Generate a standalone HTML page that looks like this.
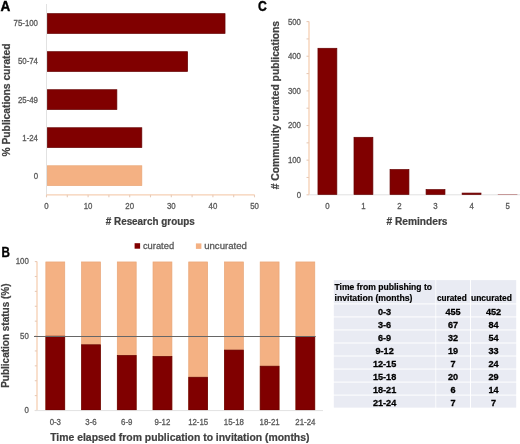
<!DOCTYPE html>
<html><head><meta charset="utf-8"><style>
html,body{margin:0;padding:0;background:#fff;width:520px;height:444px;overflow:hidden}
svg{display:block;will-change:transform}
text{font-family:"Liberation Sans",sans-serif}
</style></head><body>
<svg width="520" height="444" viewBox="0 0 520 444">
<text x="0.50" y="10.60" font-size="14.5" text-anchor="start" fill="#000" stroke="#000" stroke-width="0.4" font-weight="bold" textLength="9.80" lengthAdjust="spacingAndGlyphs">A</text>
<line x1="46.50" y1="4.00" x2="46.50" y2="197.00" stroke="#E2E2E2" stroke-width="1"/>
<rect x="47.35" y="13.65" width="177.68" height="19.80" fill="#800000" stroke="#650000" stroke-width="0.7"/>
<text x="38.00" y="26.45" font-size="8.6" text-anchor="end" fill="#595959" stroke="#595959" stroke-width="0.3" textLength="24.43" lengthAdjust="spacingAndGlyphs">75-100</text>
<rect x="47.35" y="51.68" width="140.24" height="19.80" fill="#800000" stroke="#650000" stroke-width="0.7"/>
<text x="38.00" y="64.48" font-size="8.6" text-anchor="end" fill="#595959" stroke="#595959" stroke-width="0.3" textLength="20.07" lengthAdjust="spacingAndGlyphs">50-74</text>
<rect x="47.35" y="89.71" width="69.52" height="19.80" fill="#800000" stroke="#650000" stroke-width="0.7"/>
<text x="38.00" y="102.51" font-size="8.6" text-anchor="end" fill="#595959" stroke="#595959" stroke-width="0.3" textLength="20.07" lengthAdjust="spacingAndGlyphs">25-49</text>
<rect x="47.35" y="127.74" width="94.48" height="19.80" fill="#800000" stroke="#650000" stroke-width="0.7"/>
<text x="38.00" y="140.54" font-size="8.6" text-anchor="end" fill="#595959" stroke="#595959" stroke-width="0.3" textLength="15.71" lengthAdjust="spacingAndGlyphs">1-24</text>
<rect x="47.35" y="165.77" width="94.48" height="19.80" fill="#F4B183" stroke="#E9A677" stroke-width="0.7"/>
<text x="38.00" y="178.57" font-size="8.6" text-anchor="end" fill="#595959" stroke="#595959" stroke-width="0.3" textLength="4.36" lengthAdjust="spacingAndGlyphs">0</text>
<line x1="46.50" y1="194.80" x2="254.50" y2="194.80" stroke="#F6CFB3" stroke-width="1.3"/>
<line x1="46.50" y1="194.80" x2="46.50" y2="197.30" stroke="#E8CBB8" stroke-width="1.1"/>
<line x1="67.30" y1="194.80" x2="67.30" y2="197.30" stroke="#E8CBB8" stroke-width="1.1"/>
<line x1="88.10" y1="194.80" x2="88.10" y2="197.30" stroke="#E8CBB8" stroke-width="1.1"/>
<line x1="108.90" y1="194.80" x2="108.90" y2="197.30" stroke="#E8CBB8" stroke-width="1.1"/>
<line x1="129.70" y1="194.80" x2="129.70" y2="197.30" stroke="#E8CBB8" stroke-width="1.1"/>
<line x1="150.50" y1="194.80" x2="150.50" y2="197.30" stroke="#E8CBB8" stroke-width="1.1"/>
<line x1="171.30" y1="194.80" x2="171.30" y2="197.30" stroke="#E8CBB8" stroke-width="1.1"/>
<line x1="192.10" y1="194.80" x2="192.10" y2="197.30" stroke="#E8CBB8" stroke-width="1.1"/>
<line x1="212.90" y1="194.80" x2="212.90" y2="197.30" stroke="#E8CBB8" stroke-width="1.1"/>
<line x1="233.70" y1="194.80" x2="233.70" y2="197.30" stroke="#E8CBB8" stroke-width="1.1"/>
<line x1="254.50" y1="194.80" x2="254.50" y2="197.30" stroke="#E8CBB8" stroke-width="1.1"/>
<text x="46.50" y="209.30" font-size="8.6" text-anchor="middle" fill="#595959" stroke="#595959" stroke-width="0.3" textLength="4.36" lengthAdjust="spacingAndGlyphs">0</text>
<text x="88.10" y="209.30" font-size="8.6" text-anchor="middle" fill="#595959" stroke="#595959" stroke-width="0.3" textLength="8.72" lengthAdjust="spacingAndGlyphs">10</text>
<text x="129.70" y="209.30" font-size="8.6" text-anchor="middle" fill="#595959" stroke="#595959" stroke-width="0.3" textLength="8.72" lengthAdjust="spacingAndGlyphs">20</text>
<text x="171.30" y="209.30" font-size="8.6" text-anchor="middle" fill="#595959" stroke="#595959" stroke-width="0.3" textLength="8.72" lengthAdjust="spacingAndGlyphs">30</text>
<text x="212.90" y="209.30" font-size="8.6" text-anchor="middle" fill="#595959" stroke="#595959" stroke-width="0.3" textLength="8.72" lengthAdjust="spacingAndGlyphs">40</text>
<text x="254.50" y="209.30" font-size="8.6" text-anchor="middle" fill="#595959" stroke="#595959" stroke-width="0.3" textLength="8.72" lengthAdjust="spacingAndGlyphs">50</text>
<text x="150.25" y="225.00" font-size="10" text-anchor="middle" fill="#404040" stroke="#404040" stroke-width="0.2" font-weight="bold" textLength="89.00" lengthAdjust="spacingAndGlyphs"># Research groups</text>
<text x="9.50" y="156.50" font-size="10" text-anchor="start" fill="#404040" stroke="#404040" stroke-width="0.2" font-weight="bold" textLength="113.00" lengthAdjust="spacingAndGlyphs" transform="rotate(-90 9.50 156.50)">% Publications curated</text>
<text x="258.10" y="10.60" font-size="14.5" text-anchor="start" fill="#000" stroke="#000" stroke-width="0.4" font-weight="bold" textLength="8.80" lengthAdjust="spacingAndGlyphs">C</text>
<line x1="309.00" y1="21.60" x2="309.00" y2="194.80" stroke="#F6CFB3" stroke-width="1.3"/>
<line x1="306.50" y1="194.80" x2="309.00" y2="194.80" stroke="#E8CBB8" stroke-width="1.1"/>
<line x1="306.50" y1="177.48" x2="309.00" y2="177.48" stroke="#E8CBB8" stroke-width="1.1"/>
<line x1="306.50" y1="160.16" x2="309.00" y2="160.16" stroke="#E8CBB8" stroke-width="1.1"/>
<line x1="306.50" y1="142.84" x2="309.00" y2="142.84" stroke="#E8CBB8" stroke-width="1.1"/>
<line x1="306.50" y1="125.52" x2="309.00" y2="125.52" stroke="#E8CBB8" stroke-width="1.1"/>
<line x1="306.50" y1="108.20" x2="309.00" y2="108.20" stroke="#E8CBB8" stroke-width="1.1"/>
<line x1="306.50" y1="90.88" x2="309.00" y2="90.88" stroke="#E8CBB8" stroke-width="1.1"/>
<line x1="306.50" y1="73.56" x2="309.00" y2="73.56" stroke="#E8CBB8" stroke-width="1.1"/>
<line x1="306.50" y1="56.24" x2="309.00" y2="56.24" stroke="#E8CBB8" stroke-width="1.1"/>
<line x1="306.50" y1="38.92" x2="309.00" y2="38.92" stroke="#E8CBB8" stroke-width="1.1"/>
<line x1="306.50" y1="21.60" x2="309.00" y2="21.60" stroke="#E8CBB8" stroke-width="1.1"/>
<text x="301.00" y="197.70" font-size="8.6" text-anchor="end" fill="#595959" stroke="#595959" stroke-width="0.3" textLength="4.36" lengthAdjust="spacingAndGlyphs">0</text>
<text x="301.00" y="163.06" font-size="8.6" text-anchor="end" fill="#595959" stroke="#595959" stroke-width="0.3" textLength="13.08" lengthAdjust="spacingAndGlyphs">100</text>
<text x="301.00" y="128.42" font-size="8.6" text-anchor="end" fill="#595959" stroke="#595959" stroke-width="0.3" textLength="13.08" lengthAdjust="spacingAndGlyphs">200</text>
<text x="301.00" y="93.78" font-size="8.6" text-anchor="end" fill="#595959" stroke="#595959" stroke-width="0.3" textLength="13.08" lengthAdjust="spacingAndGlyphs">300</text>
<text x="301.00" y="59.14" font-size="8.6" text-anchor="end" fill="#595959" stroke="#595959" stroke-width="0.3" textLength="13.08" lengthAdjust="spacingAndGlyphs">400</text>
<text x="301.00" y="24.50" font-size="8.6" text-anchor="end" fill="#595959" stroke="#595959" stroke-width="0.3" textLength="13.08" lengthAdjust="spacingAndGlyphs">500</text>
<line x1="309.00" y1="194.80" x2="520.00" y2="194.80" stroke="#E2E2E2" stroke-width="1"/>
<rect x="317.95" y="48.28" width="18.90" height="146.17" fill="#800000" stroke="#650000" stroke-width="0.7"/>
<text x="327.40" y="209.20" font-size="8.6" text-anchor="middle" fill="#595959" stroke="#595959" stroke-width="0.3" textLength="4.36" lengthAdjust="spacingAndGlyphs">0</text>
<rect x="353.99" y="137.30" width="18.90" height="57.15" fill="#800000" stroke="#650000" stroke-width="0.7"/>
<text x="363.44" y="209.20" font-size="8.6" text-anchor="middle" fill="#595959" stroke="#595959" stroke-width="0.3" textLength="4.36" lengthAdjust="spacingAndGlyphs">1</text>
<rect x="390.03" y="169.52" width="18.90" height="24.93" fill="#800000" stroke="#650000" stroke-width="0.7"/>
<text x="399.48" y="209.20" font-size="8.6" text-anchor="middle" fill="#595959" stroke="#595959" stroke-width="0.3" textLength="4.36" lengthAdjust="spacingAndGlyphs">2</text>
<rect x="426.07" y="189.61" width="18.90" height="4.84" fill="#800000" stroke="#650000" stroke-width="0.7"/>
<text x="435.52" y="209.20" font-size="8.6" text-anchor="middle" fill="#595959" stroke="#595959" stroke-width="0.3" textLength="4.36" lengthAdjust="spacingAndGlyphs">3</text>
<rect x="462.11" y="193.07" width="18.90" height="1.38" fill="#800000" stroke="#650000" stroke-width="0.7"/>
<text x="471.56" y="209.20" font-size="8.6" text-anchor="middle" fill="#595959" stroke="#595959" stroke-width="0.3" textLength="4.36" lengthAdjust="spacingAndGlyphs">4</text>
<rect x="497.80" y="194.45" width="19.60" height="0.35" fill="#800000"/>
<text x="507.60" y="209.20" font-size="8.6" text-anchor="middle" fill="#595959" stroke="#595959" stroke-width="0.3" textLength="4.36" lengthAdjust="spacingAndGlyphs">5</text>
<text x="417.00" y="225.00" font-size="10" text-anchor="middle" fill="#404040" stroke="#404040" stroke-width="0.2" font-weight="bold" textLength="61.00" lengthAdjust="spacingAndGlyphs"># Reminders</text>
<text x="278.70" y="189.20" font-size="10" text-anchor="start" fill="#404040" stroke="#404040" stroke-width="0.2" font-weight="bold" textLength="168.30" lengthAdjust="spacingAndGlyphs" transform="rotate(-90 278.70 189.20)"># Community curated publications</text>
<text x="1.50" y="256.90" font-size="14.5" text-anchor="start" fill="#000" stroke="#000" stroke-width="0.4" font-weight="bold" textLength="8.40" lengthAdjust="spacingAndGlyphs">B</text>
<rect x="134.60" y="243.20" width="5.50" height="5.50" fill="#800000"/>
<text x="142.90" y="248.80" font-size="9.4" text-anchor="start" fill="#595959" stroke="#595959" stroke-width="0.3" textLength="31.20" lengthAdjust="spacingAndGlyphs">curated</text>
<rect x="195.90" y="243.40" width="5.50" height="5.50" fill="#F4B183"/>
<text x="204.20" y="248.80" font-size="9.4" text-anchor="start" fill="#595959" stroke="#595959" stroke-width="0.3" textLength="42.70" lengthAdjust="spacingAndGlyphs">uncurated</text>
<line x1="37.00" y1="261.40" x2="37.00" y2="410.40" stroke="#F6CFB3" stroke-width="1.3"/>
<line x1="34.80" y1="410.50" x2="37.00" y2="410.50" stroke="#E8CBB8" stroke-width="1.1"/>
<line x1="34.80" y1="395.61" x2="37.00" y2="395.61" stroke="#E8CBB8" stroke-width="1.1"/>
<line x1="34.80" y1="380.72" x2="37.00" y2="380.72" stroke="#E8CBB8" stroke-width="1.1"/>
<line x1="34.80" y1="365.83" x2="37.00" y2="365.83" stroke="#E8CBB8" stroke-width="1.1"/>
<line x1="34.80" y1="350.94" x2="37.00" y2="350.94" stroke="#E8CBB8" stroke-width="1.1"/>
<line x1="34.80" y1="336.05" x2="37.00" y2="336.05" stroke="#E8CBB8" stroke-width="1.1"/>
<line x1="34.80" y1="321.16" x2="37.00" y2="321.16" stroke="#E8CBB8" stroke-width="1.1"/>
<line x1="34.80" y1="306.27" x2="37.00" y2="306.27" stroke="#E8CBB8" stroke-width="1.1"/>
<line x1="34.80" y1="291.38" x2="37.00" y2="291.38" stroke="#E8CBB8" stroke-width="1.1"/>
<line x1="34.80" y1="276.49" x2="37.00" y2="276.49" stroke="#E8CBB8" stroke-width="1.1"/>
<line x1="34.80" y1="261.60" x2="37.00" y2="261.60" stroke="#E8CBB8" stroke-width="1.1"/>
<text x="28.80" y="413.20" font-size="8.6" text-anchor="end" fill="#595959" stroke="#595959" stroke-width="0.3" textLength="4.36" lengthAdjust="spacingAndGlyphs">0</text>
<text x="28.80" y="338.75" font-size="8.6" text-anchor="end" fill="#595959" stroke="#595959" stroke-width="0.3" textLength="8.72" lengthAdjust="spacingAndGlyphs">50</text>
<text x="28.80" y="264.30" font-size="8.6" text-anchor="end" fill="#595959" stroke="#595959" stroke-width="0.3" textLength="13.08" lengthAdjust="spacingAndGlyphs">100</text>
<rect x="45.85" y="261.95" width="18.90" height="148.20" fill="#F4B183" stroke="#E9A677" stroke-width="0.7"/>
<rect x="45.85" y="336.15" width="18.90" height="74.00" fill="#800000" stroke="#650000" stroke-width="0.7"/>
<text x="55.30" y="425.30" font-size="8.6" text-anchor="middle" fill="#595959" stroke="#595959" stroke-width="0.3" textLength="11.35" lengthAdjust="spacingAndGlyphs">0-3</text>
<rect x="81.57" y="261.95" width="18.90" height="148.20" fill="#F4B183" stroke="#E9A677" stroke-width="0.7"/>
<rect x="81.57" y="344.78" width="18.90" height="65.37" fill="#800000" stroke="#650000" stroke-width="0.7"/>
<text x="91.02" y="425.30" font-size="8.6" text-anchor="middle" fill="#595959" stroke="#595959" stroke-width="0.3" textLength="11.35" lengthAdjust="spacingAndGlyphs">3-6</text>
<rect x="117.29" y="261.95" width="18.90" height="148.20" fill="#F4B183" stroke="#E9A677" stroke-width="0.7"/>
<rect x="117.29" y="355.45" width="18.90" height="54.70" fill="#800000" stroke="#650000" stroke-width="0.7"/>
<text x="126.74" y="425.30" font-size="8.6" text-anchor="middle" fill="#595959" stroke="#595959" stroke-width="0.3" textLength="11.35" lengthAdjust="spacingAndGlyphs">6-9</text>
<rect x="153.01" y="261.95" width="18.90" height="148.20" fill="#F4B183" stroke="#E9A677" stroke-width="0.7"/>
<rect x="153.01" y="356.44" width="18.90" height="53.71" fill="#800000" stroke="#650000" stroke-width="0.7"/>
<text x="162.46" y="425.30" font-size="8.6" text-anchor="middle" fill="#595959" stroke="#595959" stroke-width="0.3" textLength="15.71" lengthAdjust="spacingAndGlyphs">9-12</text>
<rect x="188.73" y="261.95" width="18.90" height="148.20" fill="#F4B183" stroke="#E9A677" stroke-width="0.7"/>
<rect x="188.73" y="377.23" width="18.90" height="32.92" fill="#800000" stroke="#650000" stroke-width="0.7"/>
<text x="198.18" y="425.30" font-size="8.6" text-anchor="middle" fill="#595959" stroke="#595959" stroke-width="0.3" textLength="20.07" lengthAdjust="spacingAndGlyphs">12-15</text>
<rect x="224.45" y="261.95" width="18.90" height="148.20" fill="#F4B183" stroke="#E9A677" stroke-width="0.7"/>
<rect x="224.45" y="350.07" width="18.90" height="60.08" fill="#800000" stroke="#650000" stroke-width="0.7"/>
<text x="233.90" y="425.30" font-size="8.6" text-anchor="middle" fill="#595959" stroke="#595959" stroke-width="0.3" textLength="20.07" lengthAdjust="spacingAndGlyphs">15-18</text>
<rect x="260.17" y="261.95" width="18.90" height="148.20" fill="#F4B183" stroke="#E9A677" stroke-width="0.7"/>
<rect x="260.17" y="366.18" width="18.90" height="43.97" fill="#800000" stroke="#650000" stroke-width="0.7"/>
<text x="269.62" y="425.30" font-size="8.6" text-anchor="middle" fill="#595959" stroke="#595959" stroke-width="0.3" textLength="20.07" lengthAdjust="spacingAndGlyphs">18-21</text>
<rect x="295.89" y="261.95" width="18.90" height="148.20" fill="#F4B183" stroke="#E9A677" stroke-width="0.7"/>
<rect x="295.89" y="336.40" width="18.90" height="73.75" fill="#800000" stroke="#650000" stroke-width="0.7"/>
<text x="305.34" y="425.30" font-size="8.6" text-anchor="middle" fill="#595959" stroke="#595959" stroke-width="0.3" textLength="20.07" lengthAdjust="spacingAndGlyphs">21-24</text>
<line x1="34.80" y1="410.60" x2="323.00" y2="410.60" stroke="#E2E2E2" stroke-width="1"/>
<line x1="34.00" y1="336.50" x2="315.70" y2="336.50" stroke="#666666" stroke-width="1"/>
<text x="50.20" y="440.80" font-size="10" text-anchor="start" fill="#404040" stroke="#404040" stroke-width="0.2" font-weight="bold" textLength="259.30" lengthAdjust="spacingAndGlyphs">Time elapsed from publication to invitation (months)</text>
<text x="9.50" y="387.80" font-size="10" text-anchor="start" fill="#404040" stroke="#404040" stroke-width="0.2" font-weight="bold" textLength="104.30" lengthAdjust="spacingAndGlyphs" transform="rotate(-90 9.50 387.80)">Publication status (%)</text>
<rect x="333.8" y="280.1" width="182.4" height="127.5" fill="#FFFFFF"/>
<rect x="333.80" y="280.10" width="101.60" height="23.30" fill="#E9EBF3"/>
<rect x="436.20" y="280.10" width="33.80" height="23.30" fill="#E9EBF3"/>
<rect x="471.00" y="280.10" width="45.20" height="23.30" fill="#E9EBF3"/>
<rect x="333.80" y="304.40" width="101.60" height="12.03" fill="#E9EBF3"/>
<rect x="436.20" y="304.40" width="33.80" height="12.03" fill="#E9EBF3"/>
<rect x="471.00" y="304.40" width="45.20" height="12.03" fill="#E9EBF3"/>
<rect x="333.80" y="317.43" width="101.60" height="12.03" fill="#E9EBF3"/>
<rect x="436.20" y="317.43" width="33.80" height="12.03" fill="#E9EBF3"/>
<rect x="471.00" y="317.43" width="45.20" height="12.03" fill="#E9EBF3"/>
<rect x="333.80" y="330.46" width="101.60" height="12.03" fill="#E9EBF3"/>
<rect x="436.20" y="330.46" width="33.80" height="12.03" fill="#E9EBF3"/>
<rect x="471.00" y="330.46" width="45.20" height="12.03" fill="#E9EBF3"/>
<rect x="333.80" y="343.49" width="101.60" height="12.03" fill="#E9EBF3"/>
<rect x="436.20" y="343.49" width="33.80" height="12.03" fill="#E9EBF3"/>
<rect x="471.00" y="343.49" width="45.20" height="12.03" fill="#E9EBF3"/>
<rect x="333.80" y="356.52" width="101.60" height="12.03" fill="#E9EBF3"/>
<rect x="436.20" y="356.52" width="33.80" height="12.03" fill="#E9EBF3"/>
<rect x="471.00" y="356.52" width="45.20" height="12.03" fill="#E9EBF3"/>
<rect x="333.80" y="369.55" width="101.60" height="12.03" fill="#E9EBF3"/>
<rect x="436.20" y="369.55" width="33.80" height="12.03" fill="#E9EBF3"/>
<rect x="471.00" y="369.55" width="45.20" height="12.03" fill="#E9EBF3"/>
<rect x="333.80" y="382.58" width="101.60" height="12.03" fill="#E9EBF3"/>
<rect x="436.20" y="382.58" width="33.80" height="12.03" fill="#E9EBF3"/>
<rect x="471.00" y="382.58" width="45.20" height="12.03" fill="#E9EBF3"/>
<rect x="333.80" y="395.61" width="101.60" height="12.03" fill="#E9EBF3"/>
<rect x="436.20" y="395.61" width="33.80" height="12.03" fill="#E9EBF3"/>
<rect x="471.00" y="395.61" width="45.20" height="12.03" fill="#E9EBF3"/>
<text x="334.50" y="289.50" font-size="8.9" text-anchor="start" fill="#000" stroke="#000" stroke-width="0.2" font-weight="bold" textLength="97.50" lengthAdjust="spacingAndGlyphs">Time from publishing to</text>
<text x="334.50" y="300.50" font-size="8.9" text-anchor="start" fill="#000" stroke="#000" stroke-width="0.2" font-weight="bold" textLength="78.00" lengthAdjust="spacingAndGlyphs">invitation (months)</text>
<text x="436.90" y="300.50" font-size="8.9" text-anchor="start" fill="#000" stroke="#000" stroke-width="0.2" font-weight="bold" textLength="29.80" lengthAdjust="spacingAndGlyphs">curated</text>
<text x="471.00" y="300.50" font-size="8.9" text-anchor="start" fill="#000" stroke="#000" stroke-width="0.2" font-weight="bold" textLength="40.90" lengthAdjust="spacingAndGlyphs">uncurated</text>
<text x="384.60" y="314.60" font-size="9.8" text-anchor="middle" fill="#000" stroke="#000" stroke-width="0.3" font-weight="bold" textLength="13.20" lengthAdjust="spacingAndGlyphs">0-3</text>
<text x="453.10" y="314.60" font-size="9.8" text-anchor="middle" fill="#000" stroke="#000" stroke-width="0.3" font-weight="bold" textLength="15.21" lengthAdjust="spacingAndGlyphs">455</text>
<text x="493.50" y="314.60" font-size="9.8" text-anchor="middle" fill="#000" stroke="#000" stroke-width="0.3" font-weight="bold" textLength="15.21" lengthAdjust="spacingAndGlyphs">452</text>
<text x="384.60" y="327.63" font-size="9.8" text-anchor="middle" fill="#000" stroke="#000" stroke-width="0.3" font-weight="bold" textLength="13.20" lengthAdjust="spacingAndGlyphs">3-6</text>
<text x="453.10" y="327.63" font-size="9.8" text-anchor="middle" fill="#000" stroke="#000" stroke-width="0.3" font-weight="bold" textLength="10.14" lengthAdjust="spacingAndGlyphs">67</text>
<text x="493.50" y="327.63" font-size="9.8" text-anchor="middle" fill="#000" stroke="#000" stroke-width="0.3" font-weight="bold" textLength="10.14" lengthAdjust="spacingAndGlyphs">84</text>
<text x="384.60" y="340.66" font-size="9.8" text-anchor="middle" fill="#000" stroke="#000" stroke-width="0.3" font-weight="bold" textLength="13.20" lengthAdjust="spacingAndGlyphs">6-9</text>
<text x="453.10" y="340.66" font-size="9.8" text-anchor="middle" fill="#000" stroke="#000" stroke-width="0.3" font-weight="bold" textLength="10.14" lengthAdjust="spacingAndGlyphs">32</text>
<text x="493.50" y="340.66" font-size="9.8" text-anchor="middle" fill="#000" stroke="#000" stroke-width="0.3" font-weight="bold" textLength="10.14" lengthAdjust="spacingAndGlyphs">54</text>
<text x="384.60" y="353.69" font-size="9.8" text-anchor="middle" fill="#000" stroke="#000" stroke-width="0.3" font-weight="bold" textLength="18.27" lengthAdjust="spacingAndGlyphs">9-12</text>
<text x="453.10" y="353.69" font-size="9.8" text-anchor="middle" fill="#000" stroke="#000" stroke-width="0.3" font-weight="bold" textLength="10.14" lengthAdjust="spacingAndGlyphs">19</text>
<text x="493.50" y="353.69" font-size="9.8" text-anchor="middle" fill="#000" stroke="#000" stroke-width="0.3" font-weight="bold" textLength="10.14" lengthAdjust="spacingAndGlyphs">33</text>
<text x="384.60" y="366.72" font-size="9.8" text-anchor="middle" fill="#000" stroke="#000" stroke-width="0.3" font-weight="bold" textLength="23.34" lengthAdjust="spacingAndGlyphs">12-15</text>
<text x="453.10" y="366.72" font-size="9.8" text-anchor="middle" fill="#000" stroke="#000" stroke-width="0.3" font-weight="bold" textLength="5.07" lengthAdjust="spacingAndGlyphs">7</text>
<text x="493.50" y="366.72" font-size="9.8" text-anchor="middle" fill="#000" stroke="#000" stroke-width="0.3" font-weight="bold" textLength="10.14" lengthAdjust="spacingAndGlyphs">24</text>
<text x="384.60" y="379.75" font-size="9.8" text-anchor="middle" fill="#000" stroke="#000" stroke-width="0.3" font-weight="bold" textLength="23.34" lengthAdjust="spacingAndGlyphs">15-18</text>
<text x="453.10" y="379.75" font-size="9.8" text-anchor="middle" fill="#000" stroke="#000" stroke-width="0.3" font-weight="bold" textLength="10.14" lengthAdjust="spacingAndGlyphs">20</text>
<text x="493.50" y="379.75" font-size="9.8" text-anchor="middle" fill="#000" stroke="#000" stroke-width="0.3" font-weight="bold" textLength="10.14" lengthAdjust="spacingAndGlyphs">29</text>
<text x="384.60" y="392.78" font-size="9.8" text-anchor="middle" fill="#000" stroke="#000" stroke-width="0.3" font-weight="bold" textLength="23.34" lengthAdjust="spacingAndGlyphs">18-21</text>
<text x="453.10" y="392.78" font-size="9.8" text-anchor="middle" fill="#000" stroke="#000" stroke-width="0.3" font-weight="bold" textLength="5.07" lengthAdjust="spacingAndGlyphs">6</text>
<text x="493.50" y="392.78" font-size="9.8" text-anchor="middle" fill="#000" stroke="#000" stroke-width="0.3" font-weight="bold" textLength="10.14" lengthAdjust="spacingAndGlyphs">14</text>
<text x="384.60" y="405.81" font-size="9.8" text-anchor="middle" fill="#000" stroke="#000" stroke-width="0.3" font-weight="bold" textLength="23.34" lengthAdjust="spacingAndGlyphs">21-24</text>
<text x="453.10" y="405.81" font-size="9.8" text-anchor="middle" fill="#000" stroke="#000" stroke-width="0.3" font-weight="bold" textLength="5.07" lengthAdjust="spacingAndGlyphs">7</text>
<text x="493.50" y="405.81" font-size="9.8" text-anchor="middle" fill="#000" stroke="#000" stroke-width="0.3" font-weight="bold" textLength="5.07" lengthAdjust="spacingAndGlyphs">7</text>
</svg>
</body></html>
